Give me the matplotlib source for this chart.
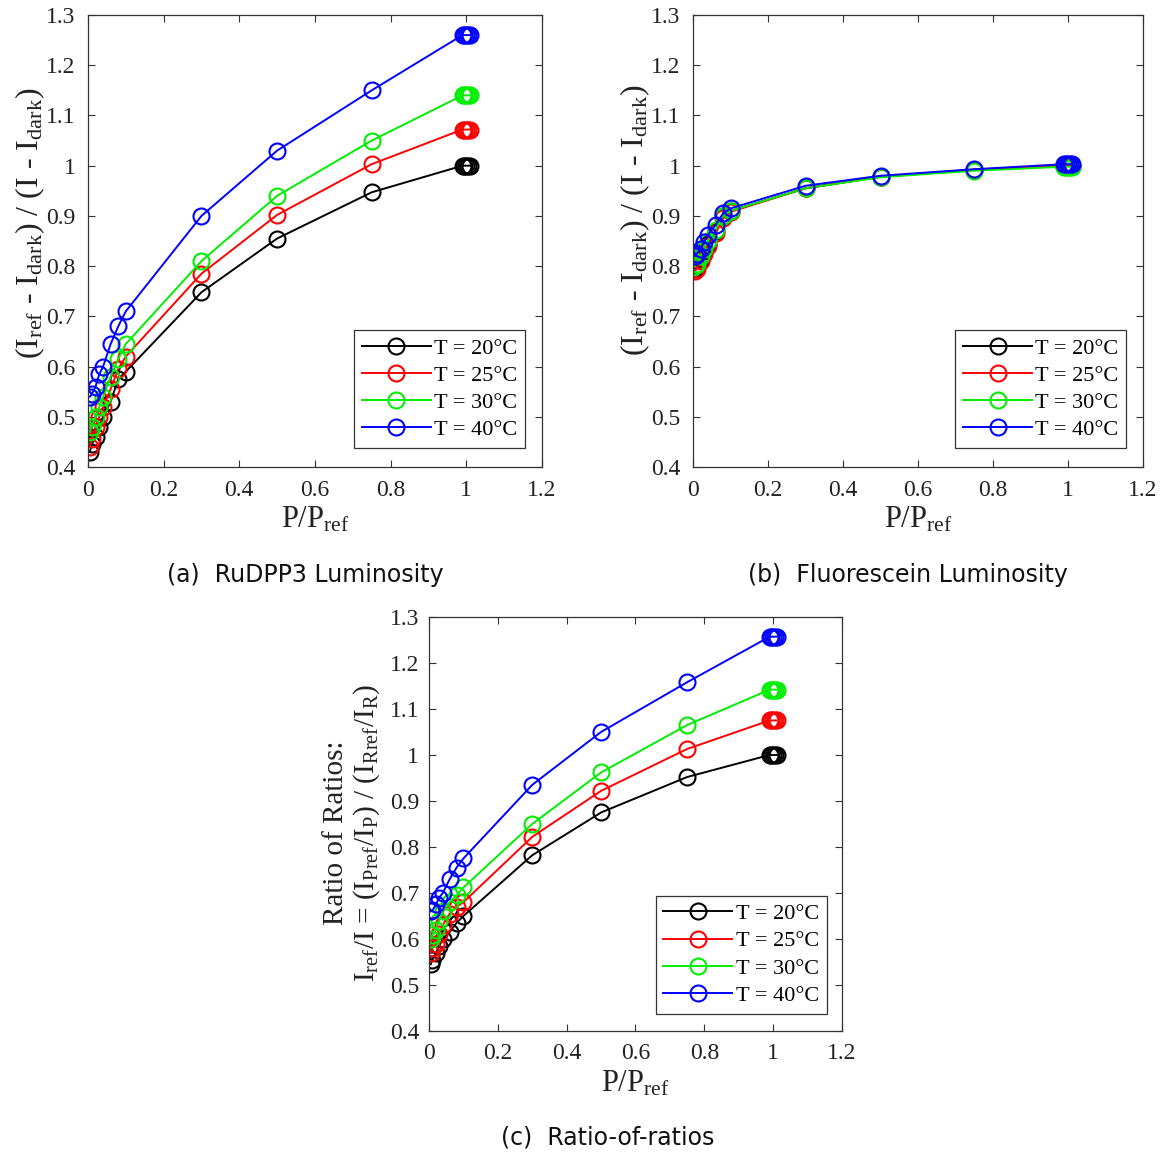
import numpy as np
import matplotlib
matplotlib.use('Agg')
import matplotlib.pyplot as plt

# Normalised pressure; the last points sit on top of each other around P/Pref = 1
p_ratio = [0.005, 0.01, 0.02, 0.03, 0.04, 0.06, 0.08, 0.1, 0.3, 0.5, 0.75,
           0.99, 0.995, 1.0, 1.005, 1.01]

temps = ['T = 20°C', 'T = 25°C', 'T = 30°C', 'T = 40°C']

# (a) RuDPP3 luminosity
ru_20 = [0.430, 0.445, 0.460, 0.480, 0.500, 0.530, 0.575, 0.590, 0.748, 0.855, 0.947,
         1.000, 1.000, 1.000, 1.000, 1.000]
ru_25 = [0.440, 0.455, 0.480, 0.500, 0.520, 0.555, 0.595, 0.620, 0.785, 0.902, 1.003,
         1.072, 1.072, 1.072, 1.072, 1.072]
ru_30 = [0.470, 0.480, 0.500, 0.520, 0.540, 0.580, 0.615, 0.645, 0.810, 0.940, 1.050,
         1.140, 1.140, 1.140, 1.140, 1.140]
ru_40 = [0.540, 0.545, 0.560, 0.585, 0.600, 0.645, 0.680, 0.710, 0.900, 1.030, 1.150,
         1.260, 1.260, 1.260, 1.260, 1.260]

# (b) Fluorescein luminosity
fl_20 = [0.795, 0.800, 0.815, 0.830, 0.845, 0.870, 0.900, 0.910, 0.955, 0.978, 0.992,
         1.000, 1.000, 1.000, 1.000, 1.000]
fl_25 = [0.790, 0.795, 0.810, 0.825, 0.840, 0.865, 0.895, 0.908, 0.955, 0.978, 0.992,
         1.000, 1.000, 1.000, 1.000, 1.000]
fl_30 = [0.800, 0.805, 0.820, 0.835, 0.850, 0.872, 0.900, 0.910, 0.955, 0.977, 0.990,
         0.998, 0.998, 0.998, 0.998, 0.998]
fl_40 = [0.820, 0.825, 0.835, 0.848, 0.862, 0.882, 0.905, 0.915, 0.960, 0.980, 0.993,
         1.003, 1.003, 1.003, 1.003, 1.003]

# (c) ratio of ratios
rr_20 = [0.545, 0.555, 0.570, 0.585, 0.600, 0.615, 0.635, 0.650, 0.782, 0.875, 0.952,
         1.000, 1.000, 1.000, 1.000, 1.000]
rr_25 = [0.570, 0.580, 0.590, 0.610, 0.630, 0.655, 0.670, 0.680, 0.822, 0.922, 1.013,
         1.075, 1.075, 1.075, 1.075, 1.075]
rr_30 = [0.600, 0.608, 0.620, 0.640, 0.660, 0.680, 0.695, 0.712, 0.850, 0.962, 1.065,
         1.142, 1.142, 1.142, 1.142, 1.142]
rr_40 = [0.660, 0.662, 0.675, 0.690, 0.700, 0.730, 0.755, 0.775, 0.935, 1.050, 1.158,
         1.257, 1.257, 1.257, 1.257, 1.257]

colors = ['#000000', '#ff0000', '#00ee00', '#0000ff']

plt.rcParams['font.family'] = 'Liberation Serif'
plt.rcParams['mathtext.fontset'] = 'custom'
plt.rcParams['mathtext.rm'] = 'Liberation Serif'
plt.rcParams['mathtext.it'] = 'Liberation Serif'

AX_COLOR = '#333333'


def draw_panel(ax, series, ylabel, ylabel_size, ylabel_xy, ypad):
    for ys, col, lab in zip(series, colors, temps):
        ax.plot(p_ratio, ys, '-o', color=col, lw=1.4, ms=11.5, mew=1.5,
                mfc='none', label=lab)
    ax.set_xlim(0, 1.2)
    ax.set_ylim(0.4, 1.3)
    ax.set_xticks(np.arange(0, 1.21, 0.2))
    ax.set_xticklabels(['0', '0.2', '0.4', '0.6', '0.8', '1', '1.2'])
    ax.set_yticks(np.arange(0.4, 1.31, 0.1))
    ax.set_yticklabels(['0.4', '0.5', '0.6', '0.7', '0.8', '0.9', '1',
                        '1.1', '1.2', '1.3'])
    ax.tick_params(direction='in', length=5, width=0.8, top=True, right=True,
                   labelsize=17, colors=AX_COLOR, labelcolor='#222222')
    ax.tick_params(axis='x', pad=9)
    ax.tick_params(axis='y', pad=ypad)
    for sp in ax.spines.values():
        sp.set_color(AX_COLOR)
        sp.set_linewidth(0.9)
    ax.set_xlabel(r'P/P$_{\mathrm{ref}}$', fontsize=22, color='#222222', labelpad=3)
    ax.set_ylabel(ylabel, fontsize=ylabel_size, color='#222222', va='center',
                  linespacing=1.1)
    ax.yaxis.set_label_coords(*ylabel_xy)
    leg = ax.legend(loc='lower right', bbox_to_anchor=(0.963, 0.042),
                    fontsize=16, frameon=True, fancybox=False, framealpha=1,
                    handlelength=3.1, handletextpad=0.15, borderpad=0.35,
                    labelspacing=0.3, borderaxespad=0)
    leg.get_frame().set_edgecolor(AX_COLOR)
    leg.get_frame().set_linewidth(0.9)


fig = plt.figure(figsize=(11.62, 11.54), dpi=100, facecolor='white')

ax_a = fig.add_axes([0.0757, 0.5953, 0.3907, 0.3917])
ax_b = fig.add_axes([0.5964, 0.5953, 0.3873, 0.3917])
ax_c = fig.add_axes([0.3692, 0.1066, 0.3554, 0.3588])

dark_label = (r'(I$_{\mathrm{ref}}$ - I$_{\mathrm{dark}}$) / (I - I$_{\mathrm{dark}}$)')
draw_panel(ax_a, [ru_20, ru_25, ru_30, ru_40], dark_label, 23, (-0.128, 0.54), 9)
draw_panel(ax_b, [fl_20, fl_25, fl_30, fl_40], dark_label, 23, (-0.129, 0.545), 9)
draw_panel(ax_c, [rr_20, rr_25, rr_30, rr_40],
           'Ratio of Ratios:\n'
           r'I$_{\mathrm{ref}}$/I = (I$_{\mathrm{Pref}}$/I$_{\mathrm{P}}$) / '
           r'(I$_{\mathrm{Rref}}$/I$_{\mathrm{R}}$)', 21, (-0.186, 0.478), 7)

cap_kw = dict(ha='center', va='center', fontsize=17, family='DejaVu Sans',
              color='#111111')
fig.text(305 / 1162, 1 - 575 / 1154, '(a)  RuDPP3 Luminosity', **cap_kw)
fig.text(908 / 1162, 1 - 575 / 1154, '(b)  Fluorescein Luminosity', **cap_kw)
fig.text(608 / 1162, 1 - 1137 / 1154, '(c)  Ratio-of-ratios', **cap_kw)

fig.savefig('out.png', dpi=100, facecolor='white')
